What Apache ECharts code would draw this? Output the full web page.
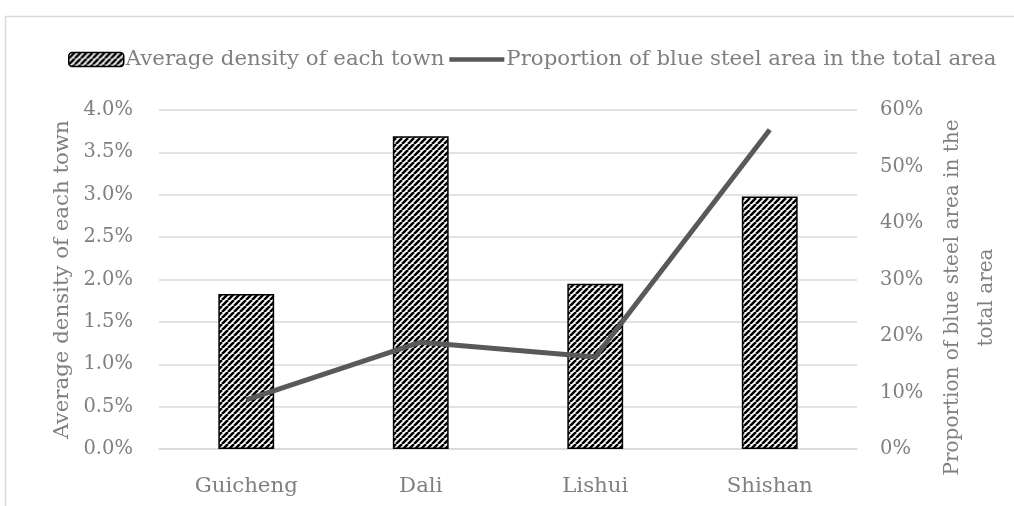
<!DOCTYPE html>
<html>
<head>
<meta charset="utf-8">
<script src="https://cdn.jsdelivr.net/npm/echarts@6/dist/echarts.min.js"></script>
<style>
  html, body { margin: 0; padding: 0; background: #fff; }
  #chart { width: 1014px; height: 506px; }
</style>
</head>
<body>
<div id="chart"></div>
<script>
// Towns on the category axis
const categories = ['Guicheng', 'Dali', 'Lishui', 'Shishan'];
// Average density of each town (%)
const densityValues = [1.83, 3.69, 1.95, 2.98];
// Proportion of blue steel area in the total area (%)
const proportionValues = [8.7, 18.9, 16.3, 56.5];
// Tick labels
const leftTicks = ['0.0%', '0.5%', '1.0%', '1.5%', '2.0%', '2.5%', '3.0%', '3.5%', '4.0%'];
const rightTicks = ['0%', '10%', '20%', '30%', '40%', '50%', '60%'];

// Diagonal hatch fill for the bars
function hatchPattern() {
  const c = document.createElement('canvas');
  c.width = 6; c.height = 6;
  const g = c.getContext('2d');
  g.fillStyle = '#ffffff';
  g.fillRect(0, 0, 6, 6);
  g.strokeStyle = '#000000';
  g.lineWidth = 2.6;
  g.beginPath();
  for (let k = -6; k <= 12; k += 6) {
    g.moveTo(k, 6);
    g.lineTo(k + 6, 0);
  }
  g.stroke();
  return c;
}

const FONT = 'DejaVu Serif';
const TICK_FS = 19.5;
const TEXT_FS = 21.3;
const GREY = '#808080';
const GRID = '#d9d9d9';

const chart = echarts.init(document.getElementById('chart'), null, { renderer: 'canvas' });
const pattern = { image: hatchPattern(), repeat: 'repeat' };

chart.setOption({
  backgroundColor: '#ffffff',
  animation: false,
  graphic: [{
    type: 'rect',
    shape: { x: 5.5, y: 16.5, width: 1200, height: 800 },
    style: { fill: 'none', stroke: GRID, lineWidth: 1.5 },
    silent: true,
    z: -1
  }],
  legend: {
    top: 44,
    left: 63,
    itemGap: 5,
    itemWidth: 55,
    itemHeight: 14,
    textStyle: { fontFamily: FONT, fontSize: TEXT_FS, color: GREY, padding: [0, 0, 0, -3] },
    data: [
      { name: 'Average density of each town', itemStyle: { color: pattern, borderColor: '#000', borderWidth: 1.5 } },
      { name: 'Proportion of blue steel area in the total area', icon: 'path://M0 0H60V5H0Z', itemStyle: { color: '#595959' } }
    ]
  },
  grid: { left: 159, right: 157, top: 110, bottom: 57, outerBoundsMode: 'none', containLabel: false },
  xAxis: {
    type: 'category',
    data: categories,
    axisLine: { show: true, lineStyle: { color: GRID, width: 1.5 } },
    axisTick: { show: false },
    axisLabel: { fontFamily: FONT, fontSize: TEXT_FS, color: GREY, margin: 27 }
  },
  yAxis: [{
    type: 'value',
    min: 0, max: 4, interval: 0.5,
    name: 'Average density of each town',
    nameLocation: 'middle',
    nameGap: 86,
    nameMoveOverlap: false,
    nameTextStyle: { fontFamily: FONT, fontSize: TEXT_FS, color: GREY },
    axisLine: { show: false },
    axisTick: { show: false },
    splitLine: { lineStyle: { color: GRID, width: 1.5 } },
    axisLabel: {
      fontFamily: FONT, fontSize: TICK_FS, color: GREY, margin: 26,
      formatter: (v) => leftTicks[Math.round(v / 0.5)]
    }
  }, {
    type: 'value',
    position: 'right',
    min: 0, max: 60, interval: 10,
    name: 'Proportion of blue steel area in the\ntotal area',
    nameLocation: 'middle',
    nameGap: 79,
    nameMoveOverlap: false,
    nameTextStyle: { fontFamily: FONT, fontSize: 20, color: GREY, lineHeight: 34, padding: [0, 36, 0, 0] },
    axisLine: { show: false },
    axisTick: { show: false },
    splitLine: { show: false },
    axisLabel: {
      fontFamily: FONT, fontSize: TICK_FS, color: GREY, margin: 23,
      formatter: (v) => rightTicks[Math.round(v / 10)]
    }
  }],
  series: [{
    name: 'Average density of each town',
    type: 'bar',
    yAxisIndex: 0,
    data: densityValues,
    barWidth: '32%',
    itemStyle: { color: pattern, borderColor: '#000000', borderWidth: 1.5 }
  }, {
    name: 'Proportion of blue steel area in the total area',
    type: 'line',
    yAxisIndex: 1,
    data: proportionValues,
    symbol: 'none',
    lineStyle: { color: '#595959', width: 5, join: 'round' },
    itemStyle: { color: '#595959' }
  }]
});
</script>
</body>
</html>
